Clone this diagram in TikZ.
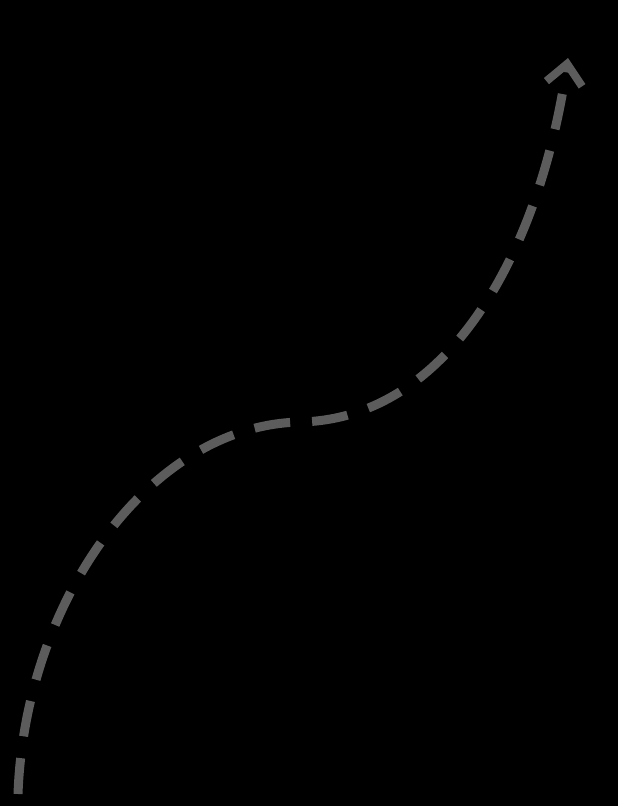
\documentclass[tikz,border=0pt]{standalone}
\usetikzlibrary{arrows.meta}
\definecolor{curvegray}{RGB}{92,92,92}
\tikzset{
  flowcurve/.style={draw=curvegray, line width=9pt, dash pattern=on 36pt off 22pt,
    -{Straight Barb[length=20pt,width=36pt,line width=8pt]}}
}
\begin{document}
\begin{tikzpicture}[x=1pt,y=-1pt]
\fill[black] (0,0) rectangle (618,806);
\useasboundingbox (0,0) rectangle (618,806);
\coordinate (start) at (18,794);
\coordinate (mid) at (300,422);
\coordinate (end) at (568,58);
\draw[flowcurve] (start) .. controls (25,600) and (150,425) .. (mid)
  .. controls (450,419) and (540,250) .. (end);
\end{tikzpicture}
\end{document}
